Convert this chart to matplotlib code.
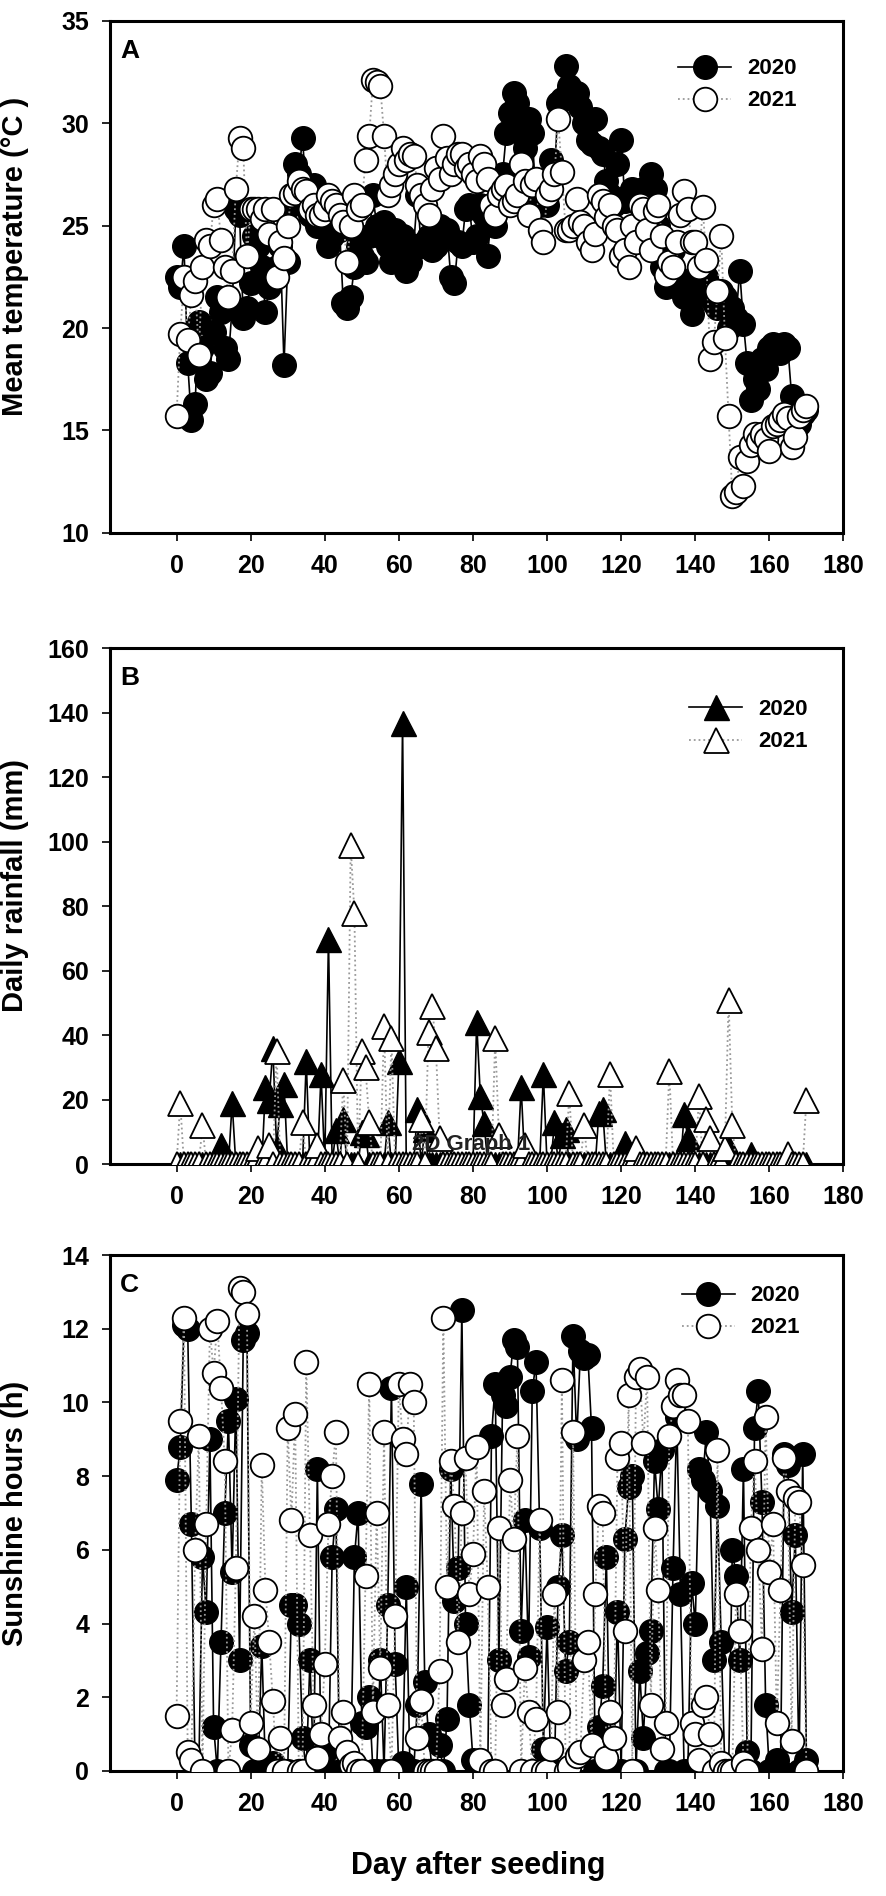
import numpy as np
import matplotlib
matplotlib.use('Agg')
import matplotlib.pyplot as plt

plt.rcParams['font.family'] = ['Liberation Sans', 'DejaVu Sans']
plt.rcParams['font.weight'] = 'bold'

days = np.arange(0, 171)

# mean temperature (deg C)
temp_2020 = [22.5, 22.0, 24.0, 18.3, 15.5, 16.3, 20.3, 19.0, 17.5, 17.8,
             19.8, 21.5, 20.8, 19.0, 18.5, 21.0, 25.8, 25.5, 20.5, 21.0,
             22.2, 24.5, 24.0, 23.0, 20.8, 22.0, 22.5, 23.0, 24.0, 18.2,
             23.2, 26.0, 28.0, 27.5, 29.3, 26.5, 25.5, 27.0, 25.0, 25.0,
             25.5, 24.0, 24.5, 25.0, 24.8, 21.2, 21.0, 21.5, 23.0, 24.0,
             23.5, 23.2, 24.5, 26.5, 25.0, 24.5, 25.2, 24.0, 23.2, 24.8,
             23.5, 24.5, 22.8, 23.2, 24.0, 26.5, 24.0, 24.2, 24.5, 23.8,
             24.0, 25.0, 24.5, 24.8, 22.5, 22.2, 24.2, 24.0, 25.8, 26.0,
             24.2, 24.5, 26.0, 25.5, 23.5, 26.0, 25.0, 27.0, 27.5, 29.5,
             30.5, 31.5, 31.0, 29.5, 28.8, 30.2, 29.5, 26.2, 26.0, 27.0,
             26.0, 28.2, 27.5, 31.0, 31.2, 32.8, 31.8, 31.2, 31.5, 30.8,
             30.0, 29.2, 29.0, 30.2, 28.8, 28.5, 27.2, 26.5, 26.0, 28.0,
             29.2, 26.2, 26.5, 26.8, 26.2, 26.0, 26.8, 26.0, 27.5, 26.8,
             25.0, 23.0, 22.0, 22.5, 23.8, 22.5, 22.0, 21.5, 22.2, 20.7,
             21.5, 22.5, 22.8, 22.5, 22.0, 21.2, 21.0, 21.8, 21.5, 20.0,
             21.0, 20.5, 22.8, 20.2, 18.3, 16.5, 17.5, 17.0, 18.5, 18.0,
             19.0, 19.2, 19.0, 18.8, 19.2, 19.0, 16.7, 16.0, 15.3, 15.8,
             16.0]
temp_2021 = [15.7, 19.7, 22.5, 19.4, 21.6, 22.3, 18.7, 23.0, 24.3, 24.0,
             26.0, 26.3, 24.3, 23.0, 21.5, 22.8, 26.8, 29.3, 28.8, 23.5,
             25.8, 25.8, 25.8, 25.3, 25.8, 24.6, 25.8, 22.5, 24.2, 23.4,
             25.0, 26.5, 26.6, 27.2, 26.8, 26.7, 25.8, 26.0, 25.5, 25.5,
             25.8, 26.5, 26.2, 26.0, 25.5, 25.2, 23.2, 25.0, 26.5, 25.8,
             26.0, 28.2, 29.4, 32.1, 32.0, 31.8, 29.4, 26.5, 27.0, 27.5,
             28.0, 28.8, 28.2, 28.5, 28.4, 27.0, 26.5, 26.0, 25.5, 26.8,
             27.8, 27.3, 29.4, 28.3, 27.5, 28.0, 28.5, 28.5, 27.8, 28.0,
             27.5, 27.2, 28.4, 28.0, 27.3, 26.0, 25.5, 26.5, 26.8, 27.0,
             26.0, 26.2, 26.5, 28.0, 27.2, 25.5, 27.0, 27.3, 24.8, 24.2,
             26.5, 26.8, 27.5, 30.2, 27.6, 24.8, 24.8, 25.0, 26.3, 25.2,
             25.0, 24.2, 23.8, 24.6, 26.5, 26.2, 25.4, 26.0, 25.0, 24.8,
             23.5, 23.8, 23.0, 25.0, 24.2, 26.0, 25.8, 24.8, 23.8, 25.7,
             26.0, 24.5, 22.6, 23.2, 23.0, 24.2, 25.5, 26.7, 25.8, 24.2,
             24.2, 23.0, 25.9, 23.3, 18.5, 19.3, 21.8, 24.5, 19.5, 15.7,
             11.8, 12.0, 13.7, 12.3, 13.5, 14.3, 14.8, 14.5, 14.8, 14.6,
             14.0, 15.2, 15.3, 15.5, 15.8, 15.6, 14.2, 14.7, 15.7, 16.0,
             16.2]

# daily rainfall (mm), days with rain only
rain_days_2020 = [12, 15, 24, 25, 26, 27, 28, 29, 35, 39, 41, 43, 45, 50, 51,
                  57, 60, 61, 65, 67, 81, 82, 83, 93, 99, 102, 104, 105, 114,
                  115, 121, 137, 138, 149, 155]
rain_mm_2020 = [6, 19, 24, 20, 36, 5, 18.8, 25, 32, 28, 70, 10.5, 14, 10, 9.5,
                13, 32, 137, 17, 11, 44, 21, 12.7, 24, 28, 13, 9, 11, 16,
                17, 6.5, 15.5, 8, 5, 3]
rain_days_2021 = [1, 7, 22, 25, 27, 34, 38, 45, 47, 48, 50, 51, 52, 56, 58,
                  66, 68, 69, 70, 71, 86, 87, 94, 106, 110, 117, 124, 133, 141,
                  143, 144, 148, 149, 150, 165, 170]
rain_mm_2021 = [19, 12, 5, 6, 35, 13, 6, 26, 99, 78, 35, 30, 13, 43, 39,
                14, 41, 49, 36, 8, 39, 9, 6, 22, 12, 28, 5, 29, 21,
                14, 8, 5, 51, 12, 3, 20]

# sunshine hours (h)
sun_2020 = [7.9, 8.8, 12.1, 12.0, 6.7, 0.0, 0.0, 5.8, 4.3, 9.0,
            1.2, 0.0, 3.5, 7.0, 9.5, 5.4, 10.1, 3.0, 11.7, 11.9,
            0.7, 0.0, 0.0, 3.4, 0.0, 0.0, 0.2, 0.0, 0.0, 0.0,
            0.0, 4.5, 4.5, 4.0, 0.9, 0.0, 3.0, 0.0, 8.2, 0.0,
            0.5, 0.0, 5.8, 7.1, 0.0, 0.0, 0.0, 0.0, 5.8, 7.0,
            1.3, 1.2, 2.0, 0.0, 0.0, 3.0, 0.0, 4.5, 10.4, 2.9,
            0.0, 0.2, 5.0, 0.0, 0.0, 1.8, 7.8, 2.4, 1.0, 0.0,
            0.0, 0.7, 0.0, 1.4, 8.2, 4.6, 5.5, 12.5, 4.0, 1.8,
            0.3, 0.0, 0.0, 0.0, 0.0, 9.1, 10.5, 3.0, 10.2, 9.9,
            10.7, 11.7, 11.5, 3.8, 6.8, 3.1, 10.3, 11.1, 6.6, 0.6,
            3.9, 0.0, 0.0, 5.0, 6.4, 2.7, 3.5, 11.8, 9.0, 11.4,
            11.2, 11.3, 9.3, 0.0, 1.2, 2.3, 5.8, 0.0, 0.0, 4.3,
            0.0, 6.3, 7.7, 8.0, 0.0, 2.7, 0.9, 3.2, 3.8, 8.4,
            7.1, 8.7, 0.0, 0.0, 5.5, 9.6, 4.8, 0.0, 0.0, 5.1,
            4.0, 8.2, 7.9, 9.2, 7.6, 3.0, 7.2, 3.5, 0.0, 0.0,
            6.0, 5.3, 3.0, 8.2, 0.5, 0.0, 9.3, 10.3, 7.3, 1.8,
            0.0, 0.0, 0.3, 0.0, 8.6, 8.3, 4.3, 6.4, 0.0, 8.6,
            0.3]
sun_2021 = [1.5, 9.5, 12.3, 0.5, 0.3, 6.0, 9.1, 0.0, 6.7, 12.0,
            10.8, 12.2, 10.4, 8.4, 0.0, 1.1, 5.5, 13.1, 13.0, 12.4,
            1.3, 4.2, 0.6, 8.3, 4.9, 3.5, 1.9, 0.0, 0.9, 0.0,
            9.3, 6.8, 9.7, 0.0, 0.0, 11.1, 6.4, 1.8, 0.35, 1.0,
            2.9, 6.7, 8.0, 9.2, 0.9, 1.6, 0.5, 0.15, 0.2, 0.0,
            0.0, 5.3, 10.5, 1.6, 7.0, 2.8, 9.2, 1.8, 0.0, 4.2,
            10.5, 9.0, 8.6, 10.5, 10.0, 0.9, 1.9, 0.0, 0.0, 0.0,
            0.0, 2.7, 12.3, 5.0, 8.4, 7.2, 3.5, 7.0, 8.5, 4.8,
            5.9, 8.8, 0.3, 7.6, 5.0, 0.0, 0.0, 6.6, 1.8, 2.5,
            7.9, 6.3, 9.1, 0.0, 2.8, 1.6, 0.0, 1.4, 6.8, 0.0,
            0.0, 0.6, 4.8, 1.6, 10.6, 0.0, 0.1, 9.2, 0.4, 0.5,
            3.0, 3.5, 0.7, 4.8, 7.2, 7.0, 0.35, 1.6, 0.9, 8.5,
            8.9, 3.8, 10.2, 0.0, 10.7, 10.9, 8.9, 10.7, 1.8, 6.6,
            4.9, 0.6, 1.3, 9.1, 9.9, 10.6, 10.2, 10.2, 9.5, 1.3,
            1.0, 0.3, 1.8, 2.0, 1.0, 0.0, 8.7, 0.2, 0.0, 0.0,
            0.0, 4.8, 3.8, 0.2, 0.0, 6.6, 8.4, 6.0, 3.3, 9.6,
            5.4, 6.7, 1.3, 4.9, 8.5, 7.6, 0.8, 7.4, 7.3, 5.6,
            0.0]

rain_2020 = np.zeros(len(days))
rain_2020[rain_days_2020] = rain_mm_2020
rain_2021 = np.zeros(len(days))
rain_2021[rain_days_2021] = rain_mm_2021

fig = plt.figure(figsize=(8.86, 18.96), dpi=100)
ax_a = fig.add_axes([0.124, 0.719, 0.828, 0.270])
ax_b = fig.add_axes([0.124, 0.386, 0.828, 0.272])
ax_c = fig.add_axes([0.124, 0.066, 0.828, 0.272])


def draw(ax, y20, y21, marker, ms):
    ax.plot(days, y20, color='black', lw=1.2, marker=marker, ms=ms,
            mfc='black', mec='black', mew=1.0, label='2020', zorder=3)
    ax.plot(days, y21, color='0.6', ls=':', lw=1.3, marker=marker, ms=ms,
            mfc='white', mec='black', mew=1.3, label='2021', zorder=4)


def style(ax, ylim, ystep, ylabel, letter, leg_pos, ylab_y):
    ax.set_xlim(-18, 180)
    ax.set_ylim(*ylim)
    ax.set_xticks(np.arange(0, 181, 20))
    ax.set_yticks(np.arange(ylim[0], ylim[1] + 0.1, ystep))
    for s in ax.spines.values():
        s.set_linewidth(2.2)
    ax.tick_params(direction='out', length=6, width=1.2, labelsize=18,
                   pad=9, top=False, right=False)
    ax.set_ylabel(ylabel, fontsize=21, fontweight='bold')
    ax.yaxis.set_label_coords(-0.11, ylab_y)
    ax.text(0.014, 0.965, letter, transform=ax.transAxes, fontsize=19,
            fontweight='bold', ha='left', va='top')
    ax.legend(loc='center', bbox_to_anchor=leg_pos, frameon=False,
              fontsize=16, handlelength=2.4, handletextpad=0.7,
              labelspacing=0.5, numpoints=1)


draw(ax_a, temp_2020, temp_2021, 'o', 17)
style(ax_a, (10, 35), 5, 'Mean temperature (°C )', 'A', (0.855, 0.875), 0.54)

draw(ax_b, rain_2020, rain_2021, '^', 18)
ax_b.text(63.5, 6, '2D Graph 1', fontsize=16, fontweight='bold',
          color='#222222', ha='left', va='center', zorder=5)
style(ax_b, (0, 160), 20, 'Daily rainfall (mm)', 'B', (0.87, 0.85), 0.54)

draw(ax_c, sun_2020, sun_2021, 'o', 17)
style(ax_c, (0, 14), 2, 'Sunshine hours (h)', 'C', (0.86, 0.89), 0.5)
fig.text(0.54, 0.008, 'Day after seeding', fontsize=22, fontweight='bold',
         ha='center', va='bottom')

fig.savefig('out.png', dpi=100)
